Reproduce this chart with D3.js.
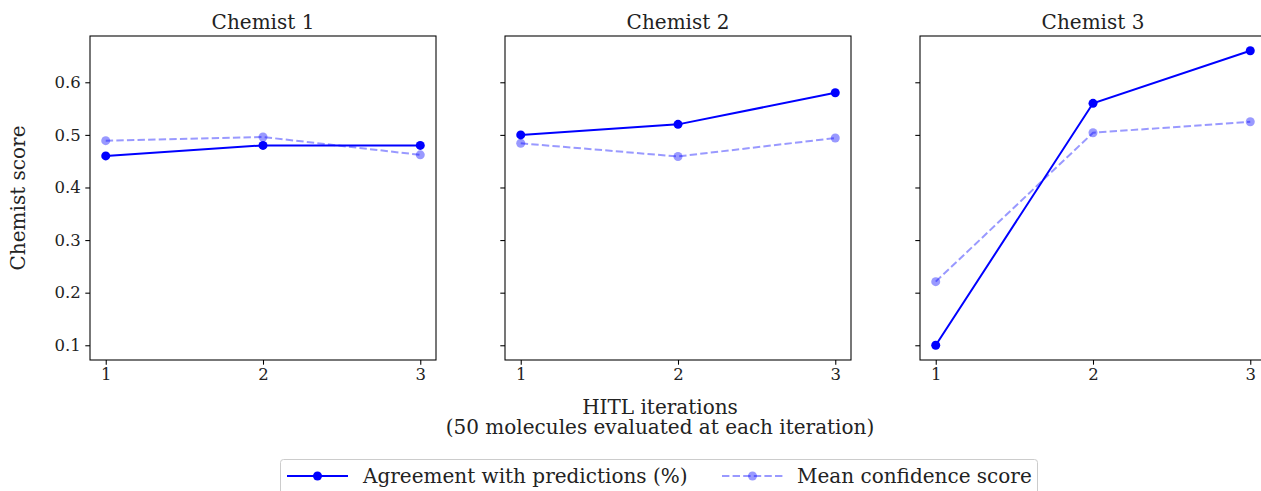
<!DOCTYPE html>
<html>
<head>
<meta charset="utf-8">
<script src="https://cdn.jsdelivr.net/npm/d3@7"></script>
<style>
  html, body { margin: 0; padding: 0; background: #fff; overflow: hidden; }
  svg { display: block; font-family: "DejaVu Serif", serif; }
</style>
</head>
<body>
<svg id="chart" width="1261" height="491"></svg>
<script>
// ---- data ----
const chemists = ["Chemist 1", "Chemist 2", "Chemist 3"];
const iterations = [1, 2, 3];
const agreement = [
  [0.46, 0.48, 0.48],
  [0.50, 0.52, 0.58],
  [0.10, 0.56, 0.66]
];
const confidence = [
  [0.489, 0.496, 0.462],
  [0.484, 0.459, 0.494],
  [0.221, 0.504, 0.525]
];
const yTicks = [0.1, 0.2, 0.3, 0.4, 0.5, 0.6];
const xTicks = [1, 2, 3];
const seriesNames = ["Agreement with predictions (%)", "Mean confidence score"];
const yLabel = "Chemist score";
const xLabelLines = ["HITL iterations", "(50 molecules evaluated at each iteration)"];

// ---- layout ----
const svg = d3.select("#chart");
const panelLefts = [90, 505, 920];
const panelW = 346;
const plotTop = 36, plotBottom = 360;
const blue = "#0000ff";

const y = d3.scaleLinear().domain([0.072, 0.688]).range([plotBottom, plotTop]);

chemists.forEach((name, i) => {
  const left = panelLefts[i];
  const x = d3.scaleLinear().domain([0.9, 3.1]).range([left, left + panelW]);
  const g = svg.append("g");

  // x axis
  const xa = g.append("g").attr("transform", `translate(0,${plotBottom})`)
    .call(d3.axisBottom(x).tickValues(xTicks).tickFormat(d3.format("d")).tickSize(4.7).tickPadding(4));
  xa.select(".domain").remove();
  xa.selectAll("line").attr("stroke", "#000").attr("stroke-width", 1.07);
  xa.selectAll("text").attr("font-family", "DejaVu Serif").attr("font-size", 16.5).attr("fill", "#222");

  // y axis
  const ya = g.append("g").attr("transform", `translate(${left},0)`)
    .call(d3.axisLeft(y).tickValues(yTicks).tickFormat(i === 0 ? d3.format(".1f") : () => "").tickSize(4.7).tickPadding(4.5));
  ya.select(".domain").remove();
  ya.selectAll("line").attr("stroke", "#000").attr("stroke-width", 1.07);
  ya.selectAll("text").attr("font-family", "DejaVu Serif").attr("font-size", 16.5).attr("fill", "#222");

  // frame
  g.append("rect").attr("x", left).attr("y", plotTop)
    .attr("width", panelW).attr("height", plotBottom - plotTop)
    .attr("fill", "none").attr("stroke", "#000").attr("stroke-width", 1.07);

  // title
  g.append("text").attr("x", left + panelW / 2).attr("y", 29)
    .attr("text-anchor", "middle").attr("font-size", 20).attr("fill", "#222").text(name);

  const line = d3.line().x((d, j) => x(iterations[j])).y(d => y(d));

  // agreement
  g.append("path").datum(agreement[i]).attr("d", line)
    .attr("fill", "none").attr("stroke", blue).attr("stroke-width", 2);
  g.selectAll(".ag").data(agreement[i]).enter().append("circle")
    .attr("cx", (d, j) => x(iterations[j])).attr("cy", d => y(d)).attr("r", 4.5)
    .attr("fill", blue);

  // confidence
  g.append("path").datum(confidence[i]).attr("d", line)
    .attr("fill", "none").attr("stroke", blue).attr("stroke-width", 2)
    .attr("stroke-opacity", 0.4).attr("stroke-dasharray", "7.4,3.2");
  g.selectAll(".cf").data(confidence[i]).enter().append("circle")
    .attr("cx", (d, j) => x(iterations[j])).attr("cy", d => y(d)).attr("r", 4.5)
    .attr("fill", blue).attr("fill-opacity", 0.4);
});

// y label
svg.append("text").attr("transform", "translate(25,198) rotate(-90)")
  .attr("text-anchor", "middle").attr("font-size", 20).attr("fill", "#222").text(yLabel);

// x label
const xl = svg.append("text").attr("text-anchor", "middle").attr("font-size", 20).attr("fill", "#222");
xLabelLines.forEach((t, k) => {
  xl.append("tspan").attr("x", 660).attr("y", 414 + k * 20).text(t);
});

// legend
const lg = svg.append("g");
lg.append("rect").attr("x", 280.5).attr("y", 459.5).attr("width", 757).attr("height", 40)
  .attr("rx", 3).attr("fill", "#fff").attr("fill-opacity", 0.8)
  .attr("stroke", "#cccccc").attr("stroke-width", 1);
const legendItems = [
  { x0: 287, x1: 348, tx: 363, dash: null, op: 1 },
  { x0: 722, x1: 783, tx: 797, dash: "7.4,3.2", op: 0.4 }
];
const ly = 476;
legendItems.forEach((it, k) => {
  const l = lg.append("line").attr("x1", it.x0).attr("x2", it.x1).attr("y1", ly).attr("y2", ly)
    .attr("stroke", blue).attr("stroke-width", 2).attr("stroke-opacity", it.op);
  if (it.dash) l.attr("stroke-dasharray", it.dash);
  lg.append("circle").attr("cx", (it.x0 + it.x1) / 2).attr("cy", ly).attr("r", 4.5)
    .attr("fill", blue).attr("fill-opacity", it.op);
  lg.append("text").attr("x", it.tx).attr("y", ly).attr("dy", "0.35em")
    .attr("font-size", 20).attr("fill", "#222").text(seriesNames[k]);
});
</script>
</body>
</html>
